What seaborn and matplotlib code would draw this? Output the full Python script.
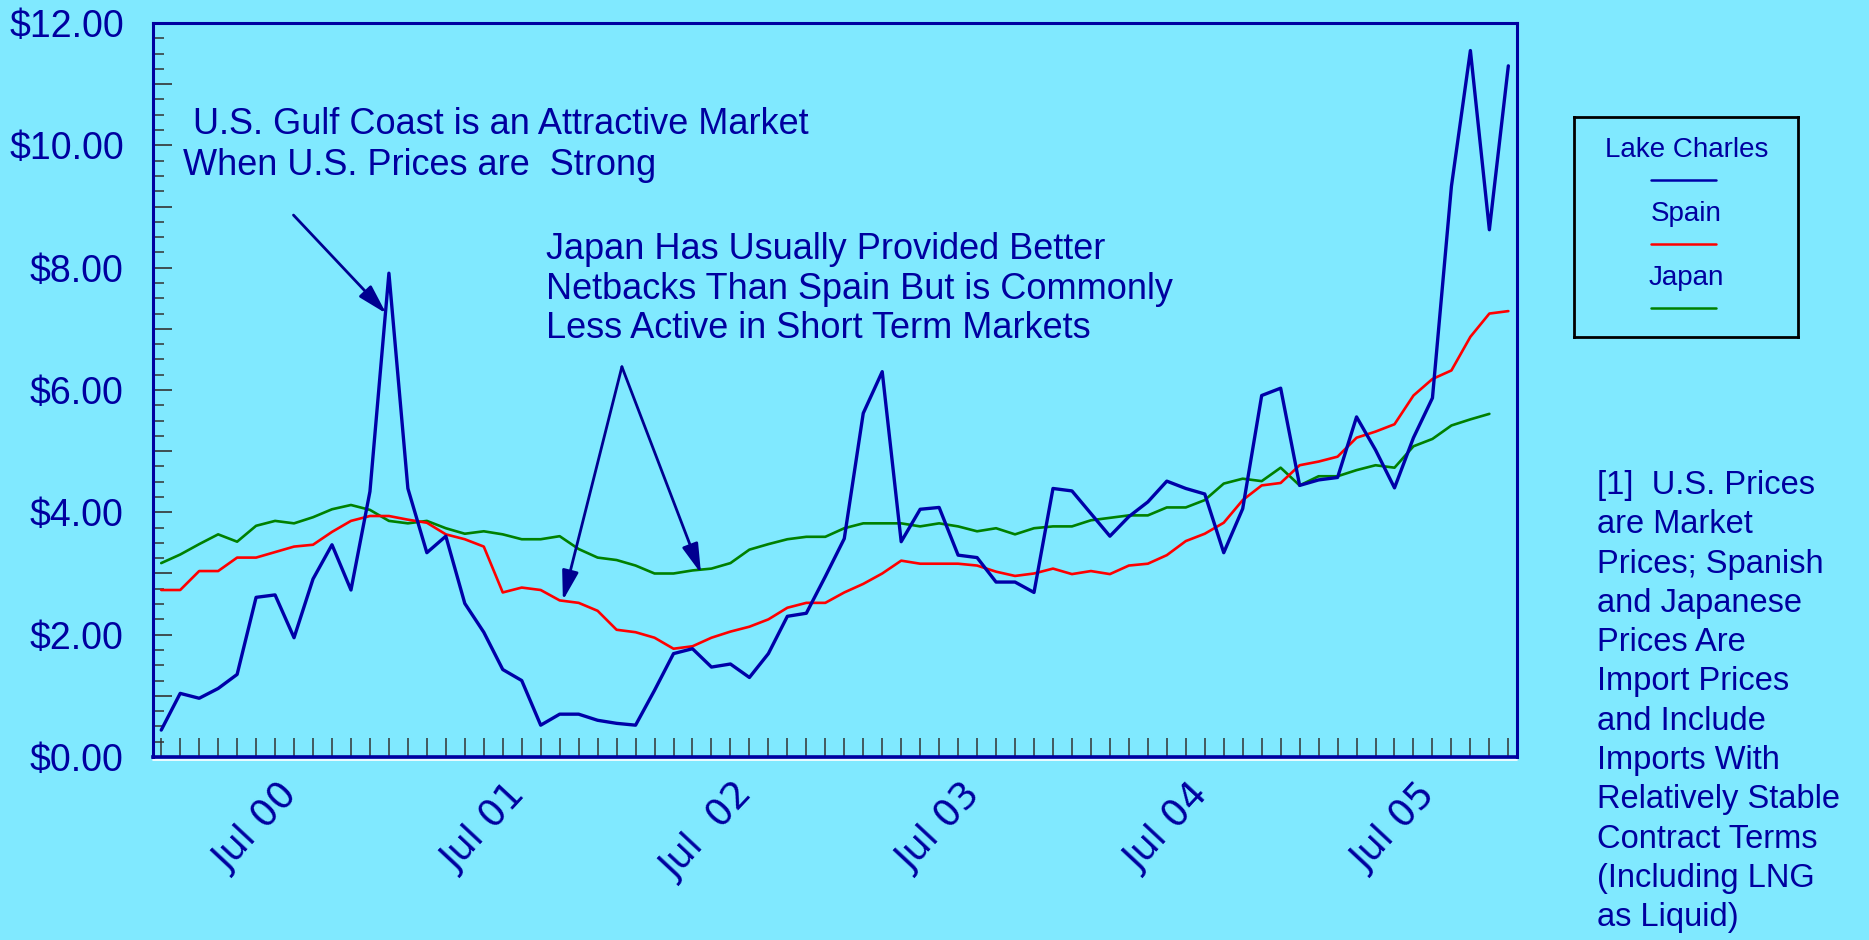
import numpy as np
import pandas as pd
import matplotlib
matplotlib.use('Agg')
import matplotlib.pyplot as plt
import matplotlib.transforms as mtransforms
from matplotlib.ticker import MultipleLocator
import seaborn as sns

# Monthly prices, Jan 2000 - Dec 2005 ($/MMBtu)
months = pd.date_range('2000-01-01', periods=72, freq='MS')

lake_charles = [0.44, 1.04, 0.96, 1.12, 1.35, 2.61, 2.65, 1.95, 2.91, 3.47,
                2.73, 4.34, 7.91, 4.39, 3.34, 3.61, 2.51, 2.04, 1.43, 1.25,
                0.52, 0.70, 0.70, 0.60, 0.55, 0.52, 1.09, 1.69, 1.77, 1.47,
                1.52, 1.30, 1.69, 2.30, 2.35, 2.95, 3.57, 5.62, 6.30, 3.52,
                4.05, 4.08, 3.30, 3.26, 2.86, 2.86, 2.69, 4.39, 4.35, 3.98,
                3.61, 3.93, 4.17, 4.51, 4.39, 4.30, 3.34, 4.06, 5.91, 6.03,
                4.44, 4.53, 4.57, 5.56, 5.02, 4.40, 5.22, 5.87, 9.33, 11.55,
                8.62, 11.30]
spain = [2.73, 2.73, 3.04, 3.04, 3.26, 3.26, 3.35, 3.44, 3.47, 3.68,
         3.86, 3.94, 3.94, 3.88, 3.83, 3.64, 3.56, 3.44, 2.69, 2.77,
         2.73, 2.56, 2.52, 2.39, 2.08, 2.04, 1.95, 1.77, 1.81, 1.95,
         2.05, 2.13, 2.25, 2.44, 2.52, 2.52, 2.69, 2.83, 3.00, 3.21,
         3.16, 3.16, 3.16, 3.13, 3.03, 2.96, 3.00, 3.08, 2.99, 3.04,
         2.99, 3.13, 3.16, 3.30, 3.53, 3.65, 3.83, 4.20, 4.44, 4.48,
         4.77, 4.83, 4.91, 5.22, 5.32, 5.44, 5.91, 6.18, 6.32, 6.87,
         7.25, 7.29]
japan = [3.17, 3.31, 3.48, 3.64, 3.52, 3.78, 3.86, 3.82, 3.92, 4.05,
         4.12, 4.04, 3.86, 3.82, 3.86, 3.74, 3.65, 3.69, 3.64, 3.56,
         3.56, 3.61, 3.40, 3.26, 3.22, 3.13, 3.00, 3.00, 3.05, 3.08,
         3.17, 3.39, 3.48, 3.56, 3.60, 3.60, 3.74, 3.82, 3.82, 3.82,
         3.77, 3.82, 3.77, 3.69, 3.74, 3.64, 3.74, 3.77, 3.77, 3.87,
         3.91, 3.95, 3.95, 4.08, 4.08, 4.20, 4.47, 4.55, 4.51, 4.73,
         4.44, 4.59, 4.59, 4.69, 4.77, 4.73, 5.08, 5.20, 5.42, 5.52,
         5.61, np.nan]

series_names = ['Lake Charles', 'Spain', 'Japan']
series_colors = ['#0000A8', '#FF0000', '#008000']
x_tick_labels = ['Jul 00', 'Jul 01', 'Jul  02', 'Jul 03', 'Jul 04', 'Jul 05']

footnote = ("[1]  U.S. Prices\nare Market\nPrices; Spanish\nand Japanese\n"
            "Prices Are\nImport Prices\nand Include\nImports With\n"
            "Relatively Stable\nContract Terms\n(Including LNG\nas Liquid)")

bg = '#80E9FF'
navy = '#0000A0'

df = pd.DataFrame({'month': np.arange(len(months)),
                   'Lake Charles': lake_charles, 'Spain': spain, 'Japan': japan})
df_long = df.melt(id_vars='month', var_name='series', value_name='price').dropna()

sns.set_theme(style='white')
plt.rcParams['font.family'] = ['Liberation Sans', 'DejaVu Sans']

fig = plt.figure(figsize=(18.69, 9.40), dpi=100, facecolor=bg)
ax = fig.add_axes([0.0819, 0.1947, 0.7298, 0.7808])
ax.set_facecolor(bg)

palette = dict(zip(series_names, series_colors))
sns.lineplot(data=df_long, x='month', y='price', hue='series',
             hue_order=['Japan', 'Spain', 'Lake Charles'], palette=palette,
             size='series', sizes={'Lake Charles': 2.4, 'Spain': 1.9, 'Japan': 1.9},
             legend=False, ax=ax)

ax.set_xlim(-0.43, 71.46)
ax.set_ylim(0, 12)
ax.set_xlabel('')
ax.set_ylabel('')

# y axis: long ticks every $1, short every 25c, labels every $2
ax.set_yticks(np.arange(0, 13, 1))
ax.set_yticklabels([f'${v:.2f}' if v % 2 == 0 else '' for v in range(13)])
ax.yaxis.set_minor_locator(MultipleLocator(0.25))
ax.tick_params(axis='y', which='major', direction='in', length=13.7, width=1.2,
               color='#333333', labelcolor=navy, labelsize=27, pad=21, left=True)
ax.tick_params(axis='y', which='minor', direction='in', length=8, width=1.1,
               color='#333333', left=True)

# x axis: tick every month, labels in July
jul_pos = [m for m, d in enumerate(months) if d.month == 7]
ax.set_xticks(np.arange(len(months)))
lab = [''] * len(months)
for p, t in zip(jul_pos, x_tick_labels):
    lab[p] = t
ax.set_xticklabels(lab, rotation=47, ha='right', va='center',
                   rotation_mode='anchor', family='DejaVu Sans')
ax.tick_params(axis='x', which='major', direction='in', length=13.7, width=1.1,
               color='#333333', labelcolor=navy, labelsize=27, pad=23, bottom=True)
shift = mtransforms.ScaledTranslation(0.17, 0, fig.dpi_scale_trans)
for t in ax.get_xticklabels():
    t.set_transform(t.get_transform() + shift)

for side, sp in ax.spines.items():
    sp.set_color(navy)
    sp.set_linewidth(2.2)
ax.spines['bottom'].set_linewidth(2.6)
fig.add_artist(plt.Line2D([0.0819, 0.8117], [0.1910, 0.1910],
                          transform=fig.transFigure, color='white', lw=1.2))

arrow_kw = dict(arrowstyle='-|>,head_length=0.9,head_width=0.25', mutation_scale=20,
                color='#000090', lw=2, shrinkA=0, shrinkB=0)

ax.text(0.022, 0.8338, ' U.S. Gulf Coast is an Attractive Market\nWhen U.S. Prices are  Strong',
        transform=ax.transAxes, ha='left', va='center', fontsize=26, color=navy,
        linespacing=1.2)
ax.annotate('', xy=(11.86, 7.25), xytext=(6.97, 8.86), arrowprops=arrow_kw)

ax.text(0.288, 0.6376, 'Japan Has Usually Provided Better\nNetbacks Than Spain But is Commonly\n'
        'Less Active in Short Term Markets',
        transform=ax.transAxes, ha='left', va='center', fontsize=26, color=navy,
        linespacing=1.18)
ax.annotate('', xy=(21.17, 2.56), xytext=(24.28, 6.38), arrowprops=arrow_kw)
ax.annotate('', xy=(28.45, 3.0), xytext=(24.28, 6.38), arrowprops=arrow_kw)

# legend box: name above its line sample
lax = fig.add_axes([0.8422, 0.6415, 0.1198, 0.234])
lax.set_facecolor(bg)
lax.set_xlim(0, 1)
lax.set_ylim(0, 1)
lax.set_xticks([])
lax.set_yticks([])
for sp in lax.spines.values():
    sp.set_color('black')
    sp.set_linewidth(2)
for k, (name, col) in enumerate(zip(series_names, series_colors)):
    ty = 0.85 - k * 0.29
    lax.text(0.503, ty, name, ha='center', va='center', fontsize=20, color=navy)
    lax.plot([0.342, 0.634], [ty - 0.136, ty - 0.136], color=col, lw=1.8)

fig.text(0.8543, 0.2537, footnote, ha='left', va='center', fontsize=23.5,
         color=navy, linespacing=1.345)

fig.savefig('out.png', dpi=100, facecolor=bg)
